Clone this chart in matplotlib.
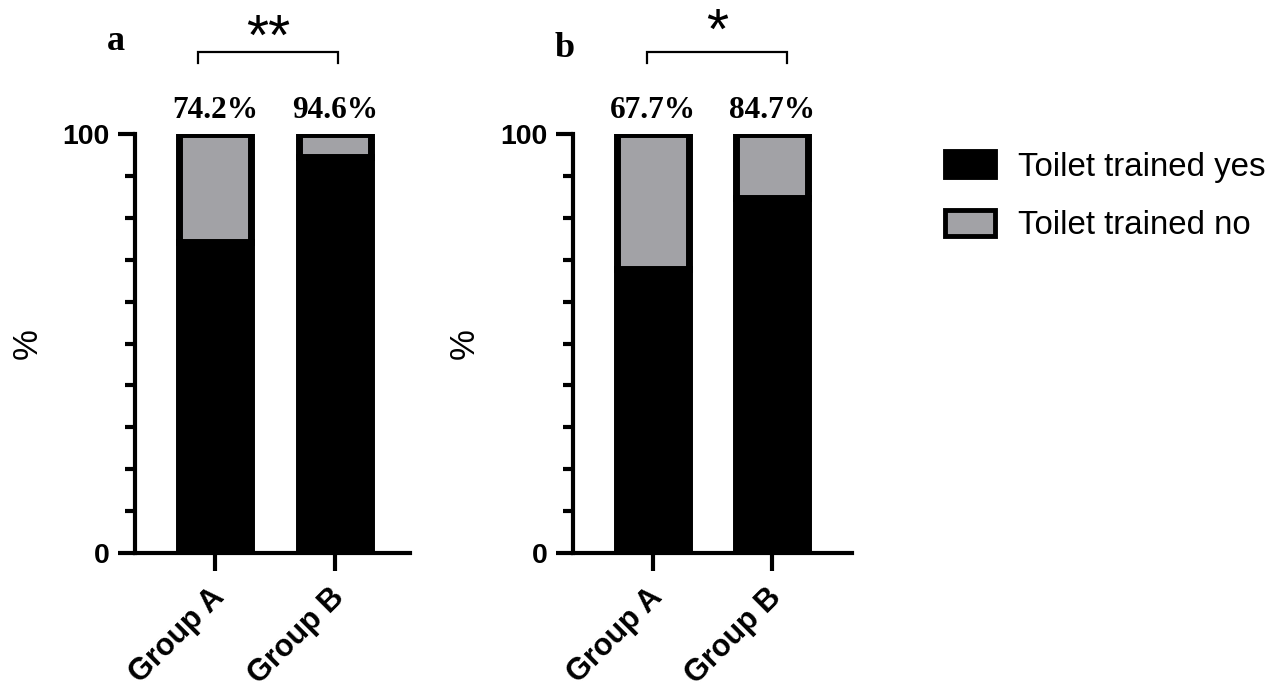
import matplotlib
matplotlib.use("Agg")
import matplotlib.pyplot as plt
import matplotlib.transforms as mtransforms
from matplotlib.patches import Patch

# Datos
groups = ["Group A", "Group B"]
trained_yes_a = [74.2, 94.6]
trained_yes_b = [67.7, 84.7]
pct_labels_a = ["74.2%", "94.6%"]
pct_labels_b = ["67.7%", "84.7%"]
stars_a = "**"
stars_b = "*"
legend_labels = ["Toilet trained yes", "Toilet trained no"]

GRAY = "#a2a2a6"
SANS = "Liberation Sans"
SERIF = "Liberation Serif"

fig = plt.figure(figsize=(12.8, 6.99), dpi=100)
ax_a = fig.add_axes([135 / 1280, 1 - 553 / 699, 275 / 1280, 419 / 699])
ax_b = fig.add_axes([573 / 1280, 1 - 553 / 699, 279 / 1280, 419 / 699])


def draw_panel(ax, yes, labels, stars, letter, xlim, bracket, letter_x, star_y):
    x = list(range(len(groups)))
    no = [100 - v for v in yes]
    ax.bar(x, yes, width=0.6, color="black", edgecolor="black", linewidth=5)
    ax.bar(x, no, bottom=yes, width=0.6, color=GRAY, edgecolor="black", linewidth=5)

    ax.set_xlim(*xlim)
    ax.set_ylim(0, 100)
    ax.spines["top"].set_visible(False)
    ax.spines["right"].set_visible(False)
    ax.spines["left"].set_linewidth(3)
    ax.spines["bottom"].set_linewidth(3)

    ax.set_yticks([0, 100])
    ax.set_yticks(range(10, 100, 10), minor=True)
    ax.tick_params(axis="y", which="major", length=12, width=3, pad=6)
    ax.tick_params(axis="y", which="minor", length=7, width=3)
    ax.tick_params(axis="x", which="major", length=13, width=3, pad=8)
    for t in ax.get_yticklabels():
        t.set_fontfamily(SANS)
        t.set_fontweight("bold")
        t.set_fontsize(20.5)

    ax.set_xticks(x)
    ax.set_xticklabels(groups, rotation=45, ha="right", va="top",
                       rotation_mode="anchor", fontfamily=SANS,
                       fontweight="bold", fontsize=22)
    shift = mtransforms.ScaledTranslation(-6 / 100, 0, fig.dpi_scale_trans)
    for t in ax.get_xticklabels():
        t.set_transform(t.get_transform() + shift)

    ax.set_ylabel("%", fontfamily=SANS, fontsize=25)
    ax.yaxis.set_label_coords(-0.33, 0.5)

    for xi, lab in zip(x, labels):
        ax.text(xi, 103.8, lab, ha="center", va="baseline", fontfamily=SERIF,
                fontweight="bold", fontsize=22.5, clip_on=False)

    # corchete de significancia
    x0, x1 = bracket
    ax.plot([x0, x0, x1, x1], [117.0, 119.6, 119.6, 117.0], color="black",
            linewidth=1.6, clip_on=False, solid_joinstyle="miter")
    ax.text((x0 + x1) / 2, star_y, stars, ha="center", va="baseline",
            fontfamily=SANS, fontsize=41, clip_on=False)

    ax.text(letter_x[0], letter_x[1], letter, ha="center", va="baseline",
            fontfamily=SERIF, fontweight="bold", fontsize=26, clip_on=False)


draw_panel(ax_a, trained_yes_a, pct_labels_a, stars_a, "a",
           (-0.667, 1.625), (-0.14, 1.025), (-0.83, 120.0), 118.8)
draw_panel(ax_b, trained_yes_b, pct_labels_b, stars_b, "b",
           (-0.672, 1.672), (-0.05, 1.13), (-0.74, 118.4), 120.3)

handles = [Patch(facecolor="black", edgecolor="black", linewidth=3.5),
           Patch(facecolor=GRAY, edgecolor="black", linewidth=3.5)]
fig.legend(handles, legend_labels, loc="upper left",
           bbox_to_anchor=(945 / 1280, 1 - 151 / 699), frameon=False,
           prop={"family": SANS, "size": 23.8}, handlelength=1.52,
           handleheight=0.85, handletextpad=0.7, labelspacing=0.82,
           borderpad=0, borderaxespad=0)

fig.savefig("out.png", dpi=100)
